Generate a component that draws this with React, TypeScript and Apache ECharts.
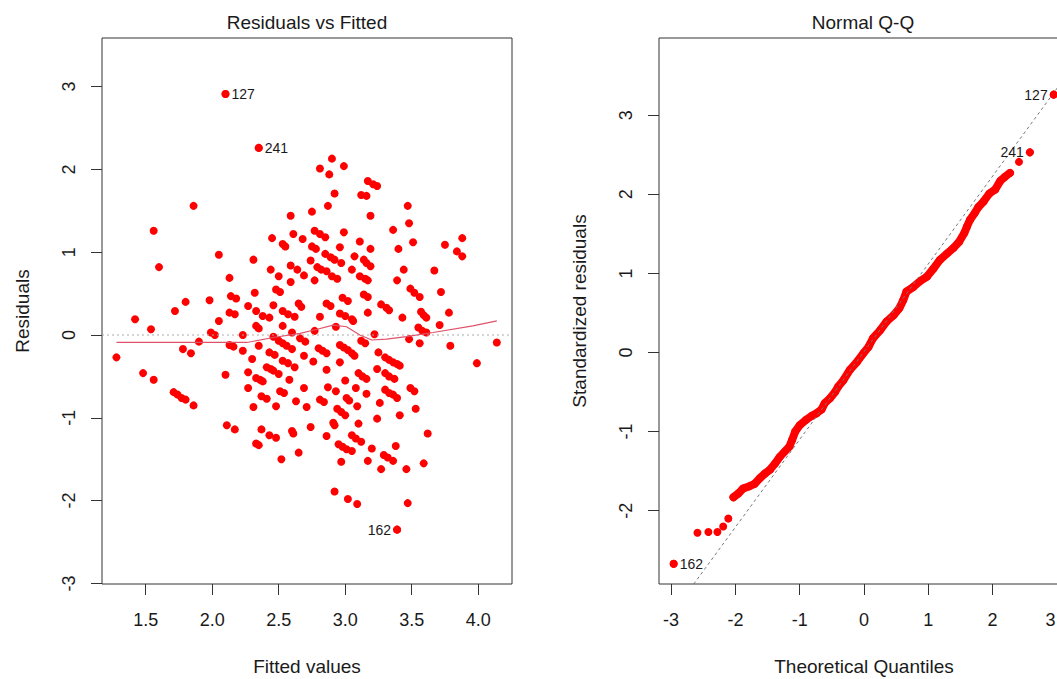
import React, { useEffect, useRef } from 'react';
import * as echarts from 'echarts';

const FONT = '"Liberation Sans", Arial, Helvetica, sans-serif';

// ---- Residuals vs Fitted ----
const fittedValues = [
  2.10, 2.35, 1.86, 1.56, 2.59, 2.45, 2.53, 2.55, 2.61, 2.05,
  1.60, 2.31, 2.44, 2.50, 2.59, 2.64, 2.59, 2.13, 2.48, 2.51,
  2.32, 2.14, 2.18, 2.90, 2.81, 2.88, 2.99, 3.17, 3.21, 3.24,
  2.92, 3.12, 3.16, 2.87, 2.75, 3.19, 3.47, 3.48, 3.36, 2.77,
  2.81, 2.85, 2.99, 3.51, 2.68, 3.11, 3.75, 3.88, 3.84, 3.88,
  2.75, 2.78, 2.96, 3.19, 3.40, 2.85, 2.89, 2.92, 2.97, 3.07,
  3.14, 3.16, 3.19, 2.74, 2.69, 2.79, 2.82, 2.86, 3.05, 3.44,
  3.67, 2.90, 2.94, 3.11, 3.15, 3.17, 2.77, 3.39, 3.49, 3.52,
  3.56, 3.72, 3.14, 3.17, 2.98, 1.80, 1.98, 1.72, 1.42, 1.54,
  2.13, 2.17, 2.27, 2.33, 2.38, 2.43, 2.46, 2.53, 2.57, 2.62,
  2.65, 2.05, 2.33, 2.35, 2.53, 1.99, 2.02, 2.23, 2.46, 2.50,
  2.60, 1.90, 2.13, 2.16, 2.35, 2.53, 2.56, 2.60, 1.28, 1.78,
  1.84, 2.23, 2.43, 2.47, 2.66, 2.30, 2.53, 2.57, 2.62, 2.41,
  2.44, 2.46, 2.50, 1.48, 1.56, 2.10, 2.27, 2.33, 2.36, 2.38,
  2.58, 2.27, 2.51, 2.54, 1.71, 1.74, 1.77, 1.80, 1.86, 2.37,
  2.41, 2.63, 2.31, 2.48, 2.11, 2.17, 2.37, 2.60, 2.61, 2.43,
  2.48, 2.33, 2.35, 2.65, 2.52, 2.67, 2.86, 2.89, 3.02, 3.27,
  3.31, 3.33, 3.17, 2.81, 2.96, 3.00, 3.05, 3.06, 3.43, 3.57,
  3.59, 3.61, 3.78, 3.71, 3.55, 3.58, 3.61, 2.77, 2.93, 2.70,
  3.12, 3.15, 3.22, 3.48, 3.56, 3.79, 4.14, 2.80, 2.83, 2.86,
  2.96, 2.99, 3.02, 3.05, 3.07, 2.69, 3.25, 3.30, 3.33, 3.36,
  3.39, 3.41, 2.76, 2.96, 2.86, 3.24, 3.99, 3.10, 3.13, 3.16,
  3.30, 3.33, 3.37, 3.00, 2.69, 2.87, 2.93, 3.08, 3.16, 3.30,
  3.33, 3.36, 3.39, 3.49, 3.52, 2.81, 2.84, 3.01, 3.03, 2.71,
  2.94, 2.97, 3.00, 3.09, 3.26, 3.53, 3.24, 3.41, 2.91, 2.92,
  3.10, 2.74, 2.86, 3.05, 3.08, 3.12, 3.62, 2.95, 2.98, 3.01,
  3.05, 3.20, 3.38, 3.29, 3.32, 3.36, 2.97, 3.17, 3.59, 3.27,
  3.46, 2.92, 3.02, 3.09, 3.47, 3.39
];
const residuals = [
  2.91, 2.26, 1.56, 1.26, 1.44, 1.17, 1.10, 1.07, 1.22, 0.97,
  0.82, 0.91, 0.79, 0.71, 0.84, 0.79, 0.64, 0.69, 0.55, 0.52,
  0.51, 0.47, 0.44, 2.13, 2.01, 1.94, 2.04, 1.86, 1.82, 1.80,
  1.71, 1.69, 1.68, 1.56, 1.49, 1.44, 1.56, 1.35, 1.27, 1.26,
  1.22, 1.18, 1.24, 1.12, 1.16, 1.13, 1.09, 1.17, 1.01, 0.95,
  1.07, 1.04, 1.06, 1.04, 1.04, 0.98, 0.94, 0.91, 0.87, 0.95,
  0.91, 0.87, 0.83, 0.90, 0.72, 0.82, 0.79, 0.77, 0.79, 0.79,
  0.78, 0.71, 0.68, 0.71, 0.68, 0.66, 0.66, 0.66, 0.56, 0.51,
  0.46, 0.52, 0.49, 0.46, 0.45, 0.40, 0.42, 0.29, 0.19, 0.07,
  0.27, 0.25, 0.35, 0.29, 0.23, 0.21, 0.36, 0.29, 0.25, 0.22,
  0.38, 0.17, 0.11, 0.08, 0.11, 0.03, 0.00, 0.00, -0.02, -0.07,
  0.03, -0.08, -0.12, -0.14, -0.13, -0.10, -0.13, -0.17, -0.27, -0.17,
  -0.22, -0.19, -0.21, -0.24, -0.04, -0.29, -0.31, -0.34, -0.39, -0.39,
  -0.41, -0.43, -0.47, -0.46, -0.54, -0.48, -0.45, -0.52, -0.54, -0.56,
  -0.54, -0.64, -0.68, -0.70, -0.69, -0.72, -0.76, -0.78, -0.85, -0.74,
  -0.77, -0.80, -0.87, -0.86, -1.09, -1.14, -1.14, -1.16, -1.19, -1.21,
  -1.24, -1.31, -1.33, -1.42, -1.50, 0.34, 0.38, 0.35, 0.41, 0.37,
  0.33, 0.30, 0.27, 0.22, 0.26, 0.23, 0.19, 0.17, 0.21, 0.28,
  0.24, 0.21, 0.27, 0.12, 0.09, 0.05, 0.03, 0.05, 0.10, -0.08,
  -0.07, -0.10, 0.01, -0.05, -0.10, -0.13, -0.09, -0.16, -0.19, -0.22,
  -0.12, -0.15, -0.18, -0.22, -0.25, -0.25, -0.21, -0.27, -0.30, -0.33,
  -0.35, -0.37, -0.32, -0.33, -0.42, -0.41, -0.34, -0.46, -0.50, -0.53,
  -0.46, -0.50, -0.53, -0.55, -0.64, -0.63, -0.68, -0.64, -0.71, -0.66,
  -0.70, -0.72, -0.76, -0.64, -0.68, -0.78, -0.81, -0.76, -0.79, -0.87,
  -0.89, -0.93, -0.97, -0.86, -0.82, -0.89, -1.01, -0.97, -1.06, -1.09,
  -1.07, -1.11, -1.22, -1.21, -1.25, -1.29, -1.19, -1.32, -1.35, -1.38,
  -1.40, -1.37, -1.34, -1.45, -1.48, -1.52, -1.53, -1.52, -1.55, -1.62,
  -1.62, -1.89, -1.98, -2.04, -2.03, -2.35
];
const lowessX = [1.28, 1.80, 2.26, 2.46, 2.66, 2.79, 2.91, 3.01, 3.11, 3.20, 3.31, 3.46, 3.66, 3.96, 4.14];
const lowessY = [-0.09, -0.09, -0.09, -0.03, 0.02, 0.07, 0.12, 0.10, 0.00, -0.06, -0.05, -0.02, 0.03, 0.11, 0.17];
const leftLabelIds = ['127', '241', '162'];
const leftLabelX = [2.10, 2.35, 3.39];
const leftLabelY = [2.91, 2.26, -2.35];
const leftLabelPos = ['right', 'right', 'left'];
const leftXTicks = [1.5, 2.0, 2.5, 3.0, 3.5, 4.0];
const leftYTicks = [-3, -2, -1, 0, 1, 2, 3];

// ---- Normal Q-Q ----
const qqTailX = [-2.96, -2.59, -2.42, -2.28, -2.19, -2.11];
const qqTailY = [-2.67, -2.28, -2.27, -2.27, -2.20, -2.10];
const qqBandX = [
  -2.03, -1.95, -1.88, -1.78, -1.70, -1.62, -1.54, -1.46, -1.38, -1.31,
  -1.23, -1.16, -1.12, -1.07, -1.00, -0.90, -0.81, -0.74, -0.66, -0.61,
  -0.53, -0.45, -0.40, -0.32, -0.22, -0.11, -0.01, 0.07, 0.14, 0.25,
  0.35, 0.46, 0.55, 0.61, 0.66, 0.77, 0.87, 0.98, 1.08, 1.18,
  1.29, 1.39, 1.48, 1.56, 1.60, 1.65, 1.72, 1.78, 1.86, 1.95,
  2.04, 2.12, 2.19, 2.27
];
const qqBandY = [
  -1.83, -1.78, -1.72, -1.69, -1.66, -1.59, -1.53, -1.48, -1.40, -1.32,
  -1.25, -1.19, -1.11, -1.00, -0.92, -0.85, -0.80, -0.77, -0.72, -0.64,
  -0.58, -0.50, -0.43, -0.35, -0.22, -0.12, -0.01, 0.07, 0.18, 0.28,
  0.39, 0.47, 0.56, 0.66, 0.77, 0.83, 0.90, 0.96, 1.06, 1.17,
  1.25, 1.32, 1.40, 1.51, 1.59, 1.68, 1.76, 1.84, 1.91, 2.01,
  2.06, 2.17, 2.22, 2.27
];
const qqTopX = [2.41, 2.58, 2.95];
const qqTopY = [2.41, 2.53, 3.26];
const qqLineX = [-3.2, 3.2];
const qqLineY = [-3.54, 3.56];
const qqLabelIds = ['127', '241', '162'];
const qqLabelX = [2.95, 2.58, -2.96];
const qqLabelY = [3.26, 2.53, -2.67];
const qqLabelPos = ['left', 'left', 'right'];
const rightXTicks = [-3, -2, -1, 0, 1, 2, 3];
const rightYTicks = [-2, -1, 0, 1, 2, 3];

const RED = '#ff0000';
const TXT = '#1a1a1a';

function zip(xs: number[], ys: number[]) {
  return xs.map((x, i) => [x, ys[i]]);
}

function makeAxis(gridIndex: number, min: number, max: number, ticks: number[], fmt: (v: number) => string, isY: boolean, name: string, extraLabel: any = {}) {
  return {
    type: 'value',
    gridIndex,
    min,
    max,
    name,
    nameLocation: 'middle',
    nameGap: isY ? 70 : 73,
    nameTextStyle: { fontSize: 19, color: TXT, fontFamily: FONT },
    axisLine: { show: false, onZero: false },
    splitLine: { show: false },
    axisTick: { show: true, inside: false, length: 11, customValues: ticks, lineStyle: { color: '#333', width: 1 } },
    axisLabel: {
      customValues: ticks,
      formatter: fmt,
      rotate: isY ? 90 : 0,
      margin: isY ? 24 : 27,
      fontSize: 18,
      color: TXT,
      fontFamily: FONT,
      showMinLabel: true,
      showMaxLabel: true,
      ...extraLabel,
    },
  };
}

export default function App() {
  const ref = useRef<HTMLDivElement>(null);
  useEffect(() => {
    if (!ref.current) return;
    const chart = echarts.init(ref.current, undefined, { renderer: 'svg' });
    const labelSeries = (ids: string[], xs: number[], ys: number[], pos: string[], axis: number) => ({
      type: 'scatter',
      xAxisIndex: axis,
      yAxisIndex: axis,
      symbolSize: 8,
      itemStyle: { color: RED, opacity: 1 },
      z: 5,
      emphasis: { disabled: true },
      data: ids.map((id, i) => ({
        name: id,
        value: [xs[i], ys[i]],
        label: { show: true, position: pos[i], formatter: '{b}', distance: 2, fontSize: 14, color: TXT, fontFamily: FONT },
      })),
    });
    const option: any = {
      animation: false,
      grid: [
        { left: 102, top: 38, width: 410, height: 546, show: true, borderColor: '#333', borderWidth: 1, backgroundColor: 'transparent', containLabel: false, outerBoundsMode: 'none' },
        { left: 659, top: 38, width: 410, height: 546, show: true, borderColor: '#333', borderWidth: 1, backgroundColor: 'transparent', containLabel: false, outerBoundsMode: 'none' },
      ],
      xAxis: [
        makeAxis(0, 1.1714, 4.254, leftXTicks, (v: number) => v.toFixed(1), false, 'Fitted values'),
        makeAxis(1, -3.188, 3.188, rightXTicks, (v: number) => String(v), false, 'Theoretical Quantiles', {
          formatter: (v: number) => (v === 3 ? '{edge|3}' : String(v)),
          rich: { edge: { fontSize: 18, color: TXT, fontFamily: FONT, padding: [0, 13, 0, 0] } },
        }),
      ],
      yAxis: [
        makeAxis(0, -3.007, 3.587, leftYTicks, (v: number) => String(v), true, 'Residuals'),
        makeAxis(1, -2.927, 3.976, rightYTicks, (v: number) => String(v), true, 'Standardized residuals'),
      ],
      graphic: [
        { type: 'text', x: 307, y: 22, style: { text: 'Residuals vs Fitted', fontSize: 19, fontFamily: FONT, fill: TXT, align: 'center', verticalAlign: 'middle', textAlign: 'center', textVerticalAlign: 'middle' } },
        { type: 'text', x: 863, y: 22, style: { text: 'Normal Q-Q', fontSize: 19, fontFamily: FONT, fill: TXT, align: 'center', verticalAlign: 'middle', textAlign: 'center', textVerticalAlign: 'middle' } },
      ],
      series: [
        {
          type: 'scatter',
          xAxisIndex: 0,
          yAxisIndex: 0,
          symbolSize: 8,
          itemStyle: { color: RED, opacity: 1 },
          emphasis: { disabled: true },
          data: zip(fittedValues, residuals),
          z: 2,
        },
        {
          type: 'line',
          xAxisIndex: 0,
          yAxisIndex: 0,
          showSymbol: false,
          symbol: 'none',
          data: [[1.1714, 0], [4.254, 0]],
          lineStyle: { color: '#aaaaaa', width: 1, type: [2, 3] },
          z: 3,
        },
        {
          type: 'line',
          xAxisIndex: 0,
          yAxisIndex: 0,
          showSymbol: false,
          symbol: 'none',
          data: zip(lowessX, lowessY),
          lineStyle: { color: '#DF536B', width: 1.2 },
          z: 4,
        },
        labelSeries(leftLabelIds, leftLabelX, leftLabelY, leftLabelPos, 0),
        {
          type: 'line',
          xAxisIndex: 1,
          yAxisIndex: 1,
          showSymbol: false,
          symbol: 'none',
          data: zip(qqBandX, qqBandY),
          lineStyle: { color: RED, width: 8, cap: 'round', join: 'round' },
          z: 2,
        },
        {
          type: 'scatter',
          xAxisIndex: 1,
          yAxisIndex: 1,
          symbolSize: 8,
          itemStyle: { color: RED, opacity: 1 },
          emphasis: { disabled: true },
          data: [...zip(qqTailX, qqTailY), ...zip(qqBandX, qqBandY), ...zip(qqTopX, qqTopY)],
          z: 2,
        },
        {
          type: 'line',
          xAxisIndex: 1,
          yAxisIndex: 1,
          showSymbol: false,
          symbol: 'none',
          data: zip(qqLineX, qqLineY),
          lineStyle: { color: '#777777', width: 1, type: [3, 3] },
          z: 4,
        },
        labelSeries(qqLabelIds, qqLabelX, qqLabelY, qqLabelPos, 1),
      ],
    };
    chart.setOption(option);
    return () => chart.dispose();
  }, []);
  return (
    <div
      ref={ref}
      style={{ position: 'fixed', left: 0, top: 0, width: 1057, height: 679, background: '#ffffff' }}
    />
  );
}
